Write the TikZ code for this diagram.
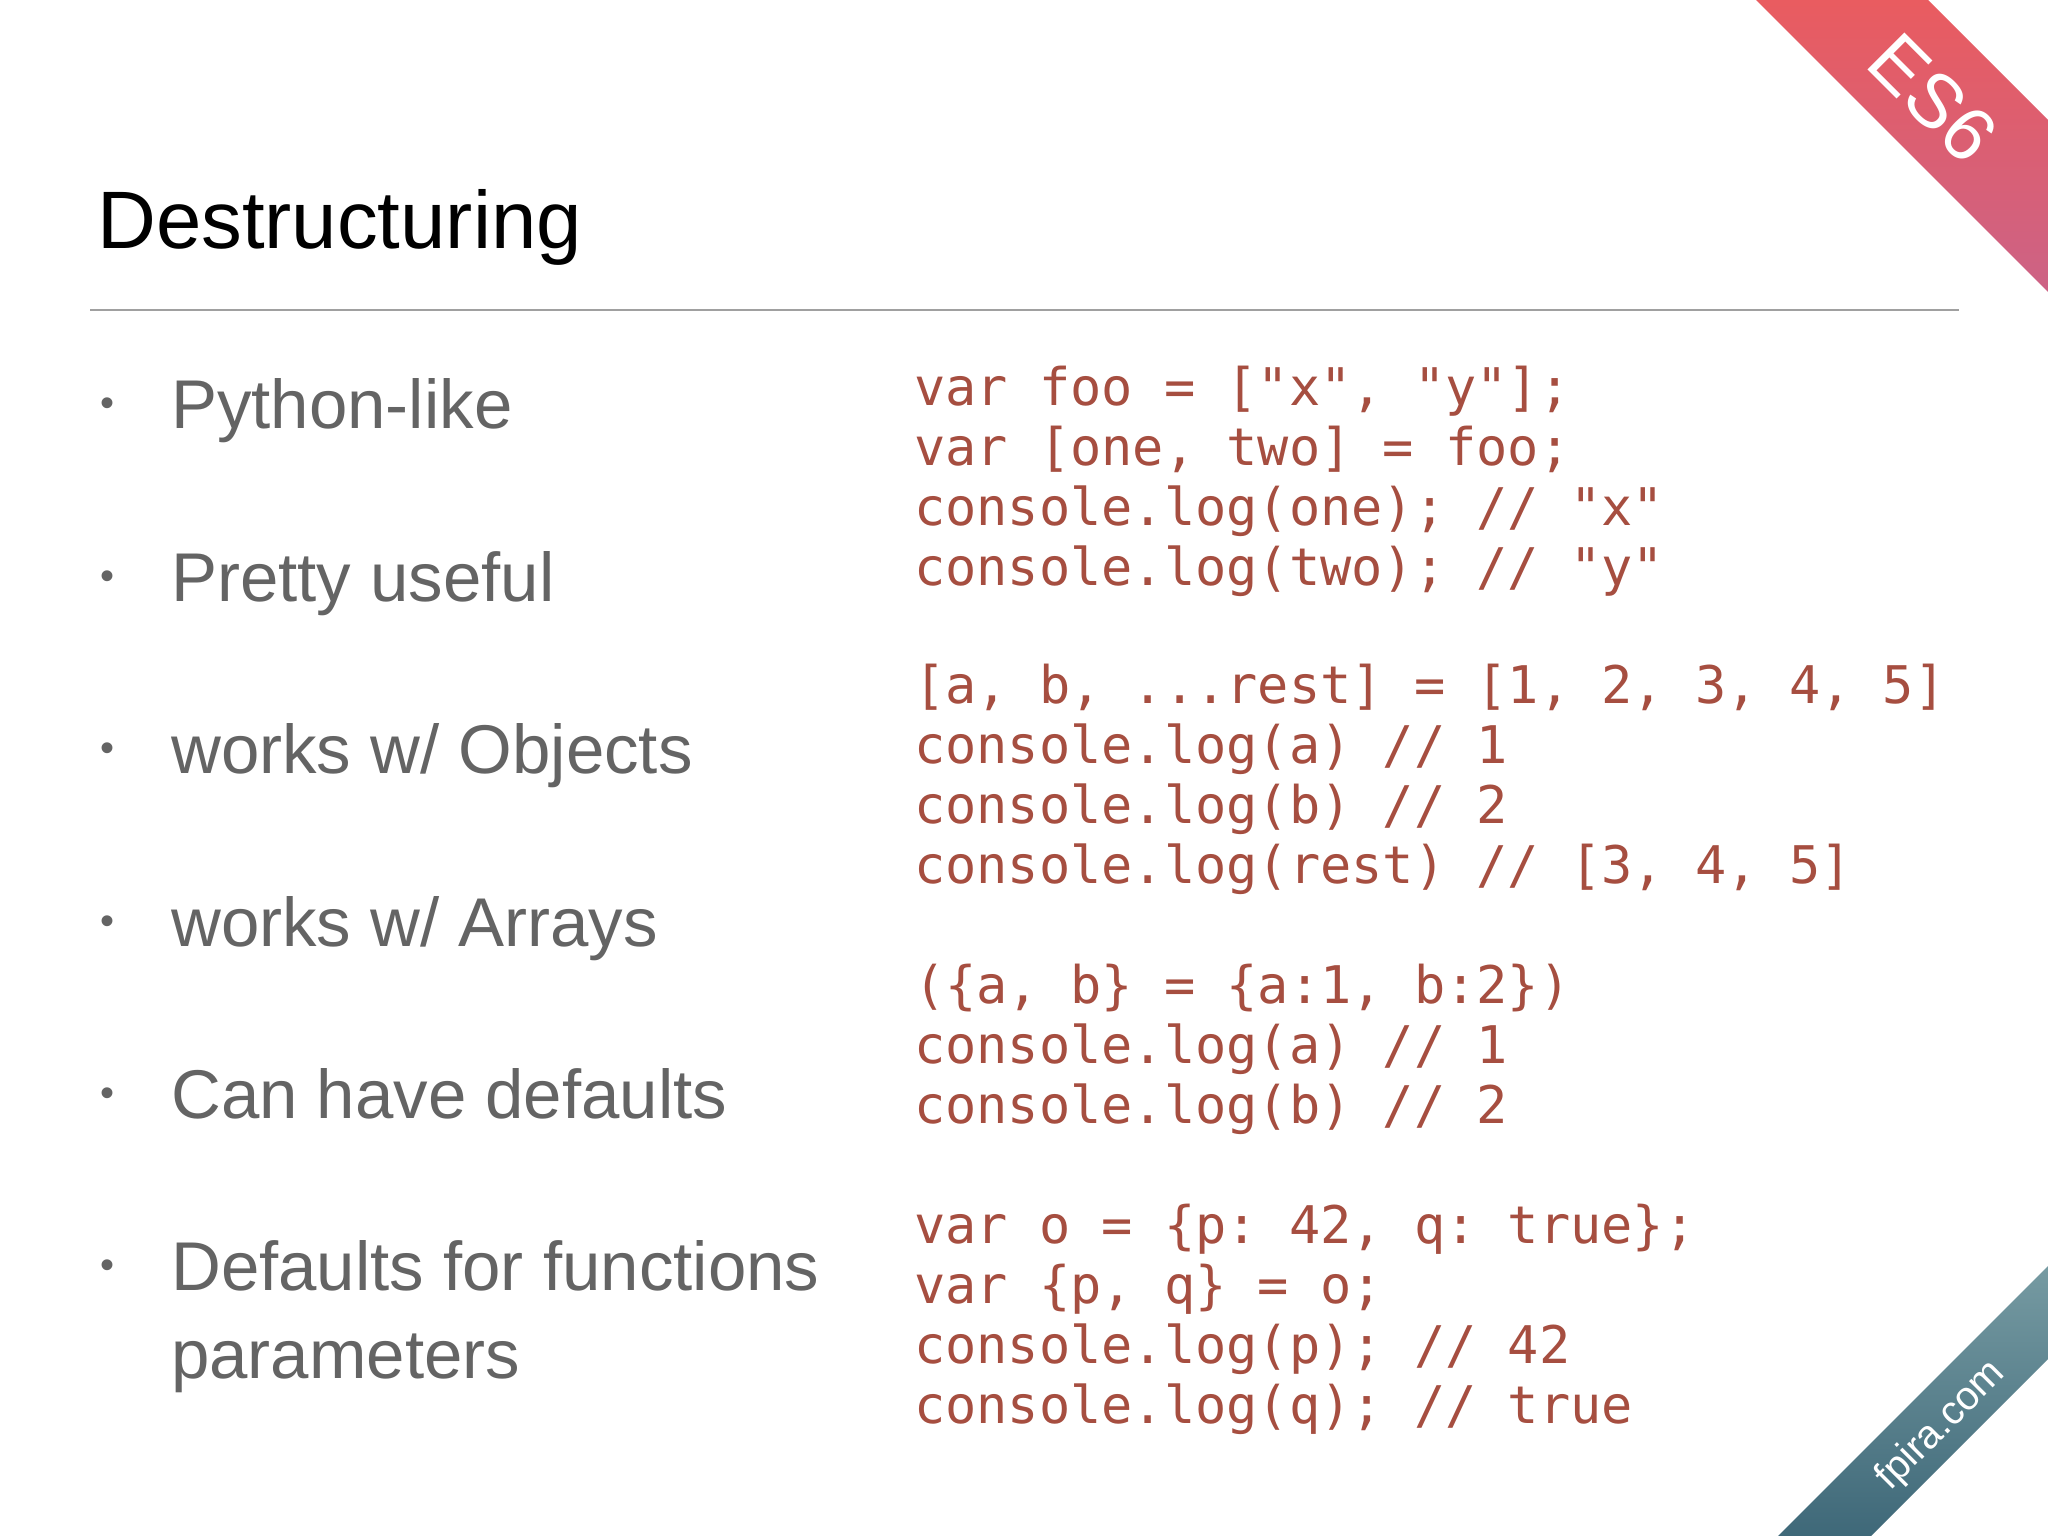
\documentclass[tikz,border=0pt]{standalone}
\usepackage{fontspec}
\setmainfont{Liberation Sans}
\setmonofont{DejaVu Sans Mono}
\definecolor{codec}{RGB}{166,78,64}
\definecolor{bulc}{RGB}{100,100,100}
\definecolor{rulec}{RGB}{160,160,160}
\definecolor{redA}{RGB}{248,88,76}
\definecolor{purA}{RGB}{198,100,142}
\definecolor{tealA}{RGB}{135,170,175}
\definecolor{tealB}{RGB}{38,82,102}
\tikzset{
  bul/.style={anchor=base west, text=bulc, font=\fontsize{69}{84}\selectfont, inner sep=0pt},
  dot/.style={anchor=base, text=bulc, font=\fontsize{40}{40}\selectfont, inner sep=0pt},
  code/.style={anchor=base west, text=codec, font=\ttfamily\fontsize{51.9}{60}\selectfont, inner sep=0pt}
}
\begin{document}
\begin{tikzpicture}[x=1pt,y=-1pt]
\useasboundingbox (0,0) rectangle (2048,1536);
\fill[white] (0,0) rectangle (2048,1536);
% top ribbon
\begin{scope}
\clip (1756,0) -- (1928,0) -- (2048,120) -- (2048,292) -- cycle;
\begin{scope}[shift={(1945,103)}, rotate=-45]
\shade[top color=redA, bottom color=purA] (-300,-62) rectangle (300,62);
\end{scope}
\end{scope}
\node[text=white, font=\fontsize{76}{76}\selectfont, rotate=-45] (es) at (1933,98) {ES6};
% bottom ribbon
\begin{scope}
\clip (2048,1266) -- (2048,1359) -- (1871,1536) -- (1778,1536) -- cycle;
\begin{scope}[shift={(1941,1419)}, rotate=45]
\shade[top color=tealA, bottom color=tealB] (-300,-34) rectangle (300,34);
\end{scope}
\end{scope}
\node[text=white, font=\fontsize{40}{40}\selectfont, rotate=45] (fp) at (1941,1426) {fpira.com};
% title
\node[anchor=base west, inner sep=0pt, font=\fontsize{81.5}{90}\selectfont] (title) at (97,248) {Destructuring};
\coordinate (r1) at (90,310); \coordinate (r2) at (1959,310);
\draw[rulec, line width=2pt] (r1) -- (r2);
% bullets
\foreach \y/\t [count=\i] in {428/{Python-like}, 601/{Pretty useful}, 773/{works w/ Objects}, 946/{works w/ Arrays}, 1118/{Can have defaults}, 1290/{Defaults for functions}}{
  \node[dot] (d\i) at (108,\y-12) {•};
  \node[bul] (b\i) at (171,\y) {\t};
}
\node[bul] (b7) at (171,1378) {parameters};
% code
\foreach \y/\t [count=\i] in {
405/{var foo = ["x", "y"];},
465/{var [one, two] = foo;},
525/{console.log(one); // "x"},
585/{console.log(two); // "y"},
703/{[a, b, ...rest] = [1, 2, 3, 4, 5]},
763/{console.log(a) // 1},
823/{console.log(b) // 2},
883/{console.log(rest) // [3, 4, 5]},
1003/{(\{a, b\} = \{a:1, b:2\})},
1063/{console.log(a) // 1},
1123/{console.log(b) // 2},
1243/{var o = \{p: 42, q: true\};},
1303/{var \{p, q\} = o;},
1363/{console.log(p); // 42},
1423/{console.log(q); // true}}{
  \node[code] (c\i) at (914,\y) {\t};
}
\end{tikzpicture}
\end{document}
